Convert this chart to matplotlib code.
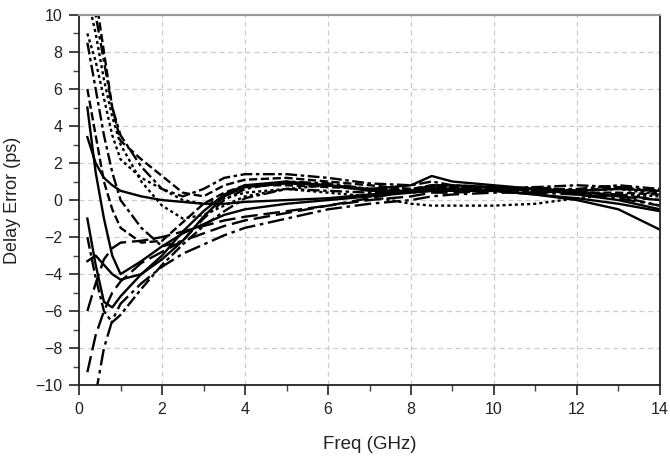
import numpy as np
import matplotlib
matplotlib.use("Agg")
import matplotlib.pyplot as plt
from matplotlib.ticker import MultipleLocator

plt.rcParams['font.family'] = ['Liberation Sans', 'DejaVu Sans']

freq = [0.2, 0.4, 0.6, 0.8, 1.0, 1.5, 2, 2.5, 3, 3.5, 4, 5, 6, 7, 8, 8.5, 9, 10, 11, 12, 13, 14]

c01 = [12, 10, 7.5, 5, 3.5, 1.8, 0.6, 0.2, 0.6, 1.2, 1.4, 1.4, 1.2, 0.9, 0.8, 1.0, 0.8, 0.7, 0.6, 0.6, 0.8, 0.6]
c02 = [12, 11, 8, 5, 3.2, 2.2, 1.3, 0.4, 0.2, 0.8, 1.1, 1.2, 1.0, 0.8, 0.6, 0.8, 0.7, 0.6, 0.7, 0.5, 0.7, 0.4]
c03 = [9, 7.5, 5.5, 3.5, 2.2, 1.2, 0.6, 0.0, -0.2, 0.1, 0.4, 0.6, 0.4, 0.2, -0.2, -0.3, -0.3, -0.3, -0.2, 0.1, 0.3, 0.2]
c04 = [3.4, 2.0, 1.2, 0.8, 0.5, 0.2, 0.0, -0.1, -0.2, -0.2, -0.1, 0.0, 0.1, 0.3, 0.5, 0.6, 0.6, 0.5, 0.3, 0.1, -0.2, -0.6]
c05 = [5, 1.5, -1.0, -3.0, -4.0, -3.3, -2.5, -1.8, -1.3, -0.8, -0.5, -0.2, 0.0, 0.2, 0.4, 0.5, 0.5, 0.5, 0.3, 0.0, -0.5, -1.6]
c06 = [8.5, 6, 3.5, 1.5, 0.0, -1.5, -2.5, -2.2, -1.0, 0.0, 0.6, 1.0, 0.9, 0.6, 0.5, 0.7, 0.6, 0.5, 0.4, 0.5, 0.2, -0.3]
c07 = [6, 3.5, 1.0, -0.5, -1.5, -2.3, -2.2, -1.2, -0.2, 0.4, 0.8, 0.8, 0.7, 0.6, 0.6, 0.7, 0.6, 0.6, 0.5, 0.4, 0.4, 0.3]
c08 = [-3.3, -3.0, -3.5, -4.0, -4.3, -4.0, -3.2, -2.2, -0.9, 0.2, 0.7, 0.9, 0.8, 0.6, 0.8, 1.3, 1.0, 0.8, 0.6, 0.3, 0.0, -0.5]
c09 = [-6.0, -4.5, -3.2, -2.6, -2.3, -2.2, -2.0, -1.7, -1.4, -1.1, -0.9, -0.6, -0.3, 0.1, 0.5, 0.6, 0.6, 0.6, 0.5, 0.4, 0.2, 0.0]
c10 = [np.nan, -10.5, -8, -6.5, -5.6, -4.5, -3.6, -2.9, -2.4, -1.9, -1.5, -1.0, -0.5, -0.2, 0.0, 0.2, 0.3, 0.4, 0.4, 0.3, 0.1, -0.3]
c11 = [-9.3, -7.3, -6.0, -5.0, -4.4, -3.4, -2.8, -2.2, -1.8, -1.4, -1.1, -0.7, -0.3, 0.0, 0.2, 0.4, 0.4, 0.5, 0.6, 0.4, 0.3, 0.0]
c12 = [-1.0, -3.5, -5.5, -5.8, -5.2, -4.0, -3.0, -1.7, -0.6, 0.3, 0.8, 1.0, 0.8, 0.5, 0.5, 0.8, 0.8, 0.7, 0.6, 0.5, 0.6, 0.5]
c13 = [11, 9, 6.5, 4.5, 3, 1.0, -0.3, -1.0, -0.8, -0.3, 0.2, 0.6, 0.8, 0.6, 0.5, 0.8, 0.7, 0.7, 0.6, 0.5, 0.6, 0.3]
c14 = [-2.0, -4.2, -6.0, -6.6, -6.2, -4.8, -3.5, -2.4, -1.4, -0.6, 0.1, 0.6, 0.5, 0.4, 0.4, 0.5, 0.5, 0.6, 0.7, 0.8, 0.7, 0.5]

curves = [c01, c02, c03, c04, c05, c06, c07, c08, c09, c10, c11, c12, c13, c14]
styles = [(0, (5, 1.5, 1.5, 1.5)), (0, (3.5, 1.5)), (0, (1.3, 1.3)), '-', '-', (0, (5, 1.5, 1.5, 1.5)),
          (0, (3.5, 1.5)), '-', (0, (7, 2.5)), (0, (7, 2, 1.5, 2)), (0, (7, 2.5)), '-',
          (0, (1.3, 1.3)), (0, (5, 1.5, 1.5, 1.5))]

fig = plt.figure(figsize=(6.7, 4.68), dpi=100)
ax = fig.add_axes([0.118, 0.177, 0.867, 0.791])

for y, ls in zip(curves, styles):
    ax.plot(freq, y, color='black', linestyle=ls, linewidth=1.7)

ax.set_xlim(0, 14)
ax.set_ylim(-10, 10)
ax.xaxis.set_major_locator(MultipleLocator(2))
ax.xaxis.set_minor_locator(MultipleLocator(1))
ax.yaxis.set_major_locator(MultipleLocator(2))
ax.yaxis.set_minor_locator(MultipleLocator(1))
ax.tick_params(which='major', direction='out', length=7, width=1.2, labelsize=11.5, colors='#222222', pad=5)
ax.tick_params(which='minor', direction='out', length=4, width=1.0, colors='#444444')
ax.grid(True, which='major', color='#cccccc', linestyle=(0, (4, 3)), linewidth=0.9)
for s in ['left', 'bottom', 'right']:
    ax.spines[s].set_linewidth(1.3)
    ax.spines[s].set_color('#222222')
ax.spines['top'].set_color('#999999')
ax.spines['top'].set_linewidth(1.5)

ax.set_xlabel('Freq (GHz)', fontsize=13.5, labelpad=14, color='#222222')
ax.set_ylabel('Delay Error (ps)', fontsize=13, labelpad=10, color='#222222')

fig.savefig('out.png', dpi=100)
